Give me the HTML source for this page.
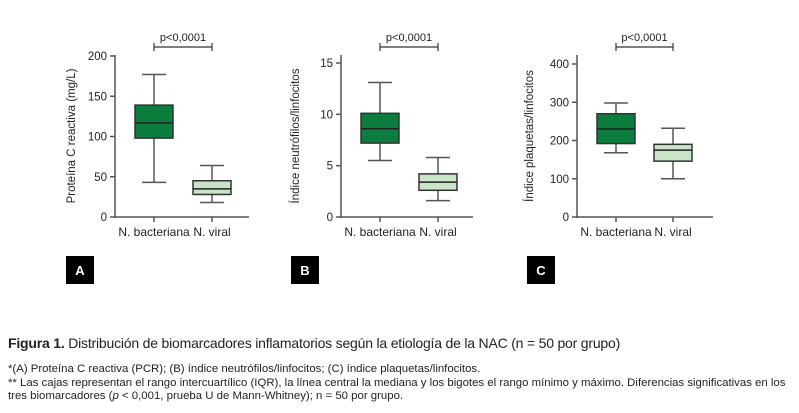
<!DOCTYPE html>
<html><head><meta charset="utf-8"><style>
body{margin:0;background:#fff;width:799px;height:413px;overflow:hidden;font-family:"Liberation Sans",sans-serif;}
svg{position:absolute;left:0;top:0}
.cap{position:absolute;left:8px;color:#222;white-space:nowrap}
</style></head><body>
<svg id="s" width="799" height="413" xmlns="http://www.w3.org/2000/svg" font-family="Liberation Sans, sans-serif"></svg>
<div class="cap" style="top:335px;font-size:14px;letter-spacing:-0.2px"><b>Figura 1.</b> Distribución de biomarcadores inflamatorios según la etiología de la NAC (n = 50 por grupo)</div>
<div class="cap" style="top:363px;font-size:11.4px;line-height:13.5px;">*(A) Proteína C reactiva (PCR); (B) índice neutrófilos/linfocitos; (C) índice plaquetas/linfocitos.<br>** Las cajas representan el rango intercuartílico (IQR), la línea central la mediana y los bigotes el rango mínimo y máximo. Diferencias significativas en los<br>tres biomarcadores (<i>p</i> &lt; 0,001, prueba U de Mann-Whitney); n = 50 por grupo.</div>
<script>
var s=document.getElementById('s'),h='';
function L(x1,y1,x2,y2,c,w){h+='<line x1="'+x1+'" y1="'+y1+'" x2="'+x2+'" y2="'+y2+'" stroke="'+(c||'#555')+'" stroke-width="'+(w||1.5)+'"/>';}
function T(x,y,t,a,sz,extra){h+='<text x="'+x+'" y="'+y+'" text-anchor="'+(a||'middle')+'" font-size="'+(sz||11)+'" fill="#222" '+(extra||'')+'>'+t+'</text>';}
function chart(o){
 var ax=o.ax,y0=217,yt=o.yt,max=o.max;
 function Y(v){return y0-(y0-yt)*v/max;}
 L(ax,55,ax,y0+1);L(ax-1,y0,o.xe,y0);
 o.ticks.forEach(function(v){var y=Y(v);L(ax-5,y,ax,y);T(ax-8,y+4,v,'end',11.5);});
 L(o.c1,y0,o.c1,y0+5);L(o.c2,y0,o.c2,y0+5);
 [[o.c1,o.d1,'#0b7d3c'],[o.c2,o.d2,'#c8e5c8']].forEach(function(b){
  var c=b[0],d=b[1];
  L(c,Y(d[0]),c,Y(d[1]),'#555');L(c,Y(d[3]),c,Y(d[4]),'#555');
  L(c-12,Y(d[0]),c+12,Y(d[0]),'#555');L(c-12,Y(d[4]),c+12,Y(d[4]),'#555');
  h+='<rect x="'+(c-19)+'" y="'+Y(d[1])+'" width="38" height="'+(Y(d[3])-Y(d[1]))+'" fill="'+b[2]+'" stroke="#333" stroke-width="1.5"/>';
  L(c-19,Y(d[2]),c+19,Y(d[2]),'#222');
 });
 T(o.c1,236,'N. bacteriana','middle',12);T(o.c2,236,'N. viral','middle',12);
 L(o.c1,47,o.c2,47,'#333',1.2);L(o.c1,43,o.c1,51,'#333',1.2);L(o.c2,43,o.c2,51,'#333',1.2);
 T((o.c1+o.c2)/2,41,'p&lt;0,0001','middle',11);
 h+='<text transform="translate('+o.lx+',136) rotate(-90)" text-anchor="middle" font-size="11.5" fill="#222">'+o.lab+'</text>';
 h+='<rect x="'+o.bx+'" y="256" width="28" height="28" fill="#000"/>';
 h+='<text x="'+(o.bx+14)+'" y="275" text-anchor="middle" font-size="13" font-weight="bold" fill="#fff">'+o.L+'</text>';
}
chart({ax:115,yt:56,max:200,xe:249,ticks:[0,50,100,150,200],c1:154,c2:212,d1:[177,139,117,98,43],d2:[64,45,35,28,18],lx:75,lab:'Proteína C reactiva (mg/L)',bx:66,L:'A'});
chart({ax:341,yt:63,max:15,xe:473,ticks:[0,5,10,15],c1:380,c2:438,d1:[13.1,10.1,8.6,7.2,5.5],d2:[5.8,4.2,3.4,2.6,1.6],lx:299,lab:'Índice neutrófilos/linfocitos',bx:291,L:'B'});
chart({ax:577,yt:64,max:400,xe:713,ticks:[0,100,200,300,400],c1:616,c2:673,d1:[298,270,230,192,168],d2:[232,190,175,146,100],lx:533,lab:'Índice plaquetas/linfocitos',bx:527,L:'C'});
s.innerHTML=h;
</script>
</body></html>
